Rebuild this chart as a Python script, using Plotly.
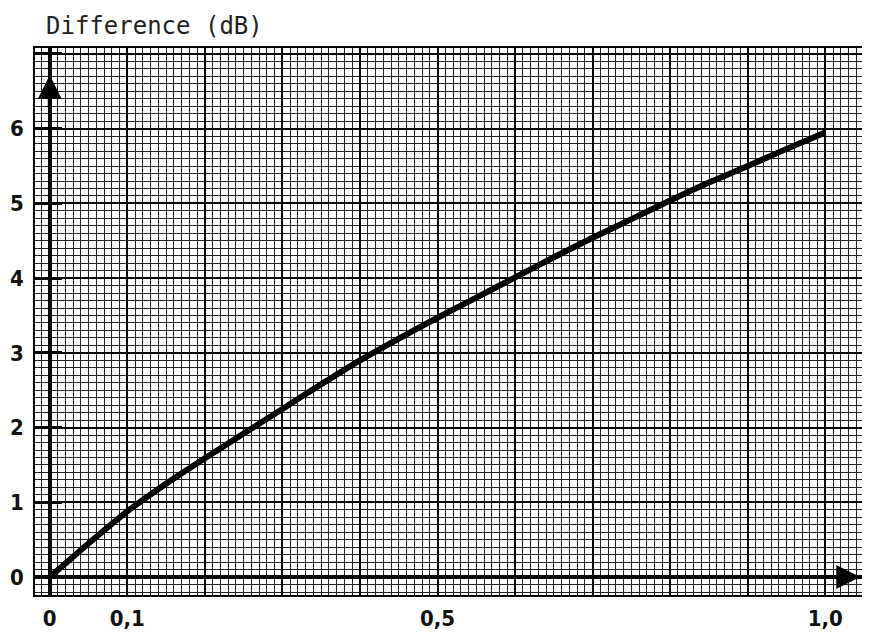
import plotly.graph_objects as go

# Data
x_vals = [0, 0.05, 0.1, 0.15, 0.2, 0.25, 0.3, 0.35, 0.4, 0.45, 0.5,
          0.55, 0.6, 0.65, 0.7, 0.75, 0.8, 0.85, 0.9, 0.95, 1.0]
diff_db = [0, 0.45, 0.88, 1.25, 1.59, 1.92, 2.25, 2.58, 2.90, 3.19, 3.47,
           3.74, 4.01, 4.28, 4.54, 4.79, 5.04, 5.28, 5.50, 5.73, 5.95]

x_tickvals = [0, 0.1, 0.2, 0.3, 0.4, 0.5, 0.6, 0.7, 0.8, 0.9, 1.0]
x_ticktext = ["0", "0,1", "", "", "", "0,5", "", "", "", "", "1,0"]
y_tickvals = [0, 1, 2, 3, 4, 5, 6, 7]
y_ticktext = ["0", "1", "2", "3", "4", "5", "6", ""]

title_text = "Difference (dB)"

fig = go.Figure()
fig.add_trace(go.Scatter(
    x=x_vals, y=diff_db, mode="lines",
    line=dict(color="black", width=6, shape="spline", smoothing=0.8),
    showlegend=False, hoverinfo="skip",
))

label_font = dict(family="Liberation Sans Narrow, DejaVu Sans Condensed, sans-serif",
                  size=22, color="#111", weight="bold")

fig.update_layout(
    width=862, height=632,
    margin=dict(l=27, r=2, t=40, b=45, autoexpand=False),
    paper_bgcolor="white", plot_bgcolor="white",
    xaxis=dict(
        range=[-0.019, 1.055], automargin=False,
        tickmode="array", tickvals=x_tickvals, ticktext=x_ticktext,
        ticks="", ticklen=0, ticklabelstandoff=3,
        showgrid=True, gridcolor="#000", gridwidth=2,
        minor=dict(tickmode="linear", tick0=0, dtick=0.01, showgrid=True,
                   gridcolor="#222", gridwidth=1),
        zeroline=True, zerolinecolor="black", zerolinewidth=4,
        showline=True, linecolor="black", linewidth=1.5, mirror=True,
        tickfont=label_font,
    ),
    yaxis=dict(
        range=[-0.24, 7.08], automargin=False,
        tickmode="array", tickvals=y_tickvals, ticktext=y_ticktext,
        ticks="inside", ticklen=27, tickwidth=2.5, tickcolor="black",
        ticklabelstandoff=5,
        showgrid=True, gridcolor="#000", gridwidth=2,
        minor=dict(tickmode="linear", tick0=0, dtick=0.1, showgrid=True,
                   gridcolor="#222", gridwidth=1),
        zeroline=True, zerolinecolor="black", zerolinewidth=4,
        showline=True, linecolor="black", linewidth=1.5, mirror=True,
        tickfont=label_font,
    ),
    annotations=[
        dict(text=title_text, xref="paper", yref="paper", x=0.011, y=1.069,
             xanchor="left", yanchor="top", showarrow=False,
             font=dict(family="DejaVu Sans Mono, monospace", size=24, color="#222")),
        dict(x=0, y=6.72, xref="x", yref="y", ax=0, ay=34, showarrow=True,
             arrowhead=2, arrowsize=1.2, arrowwidth=4, arrowcolor="black", text=""),
        dict(x=1.045, y=0, xref="x", yref="y", ax=-34, ay=0, showarrow=True,
             arrowhead=2, arrowsize=1.2, arrowwidth=4, arrowcolor="black", text=""),
    ],
)

fig.write_html("out.html")
